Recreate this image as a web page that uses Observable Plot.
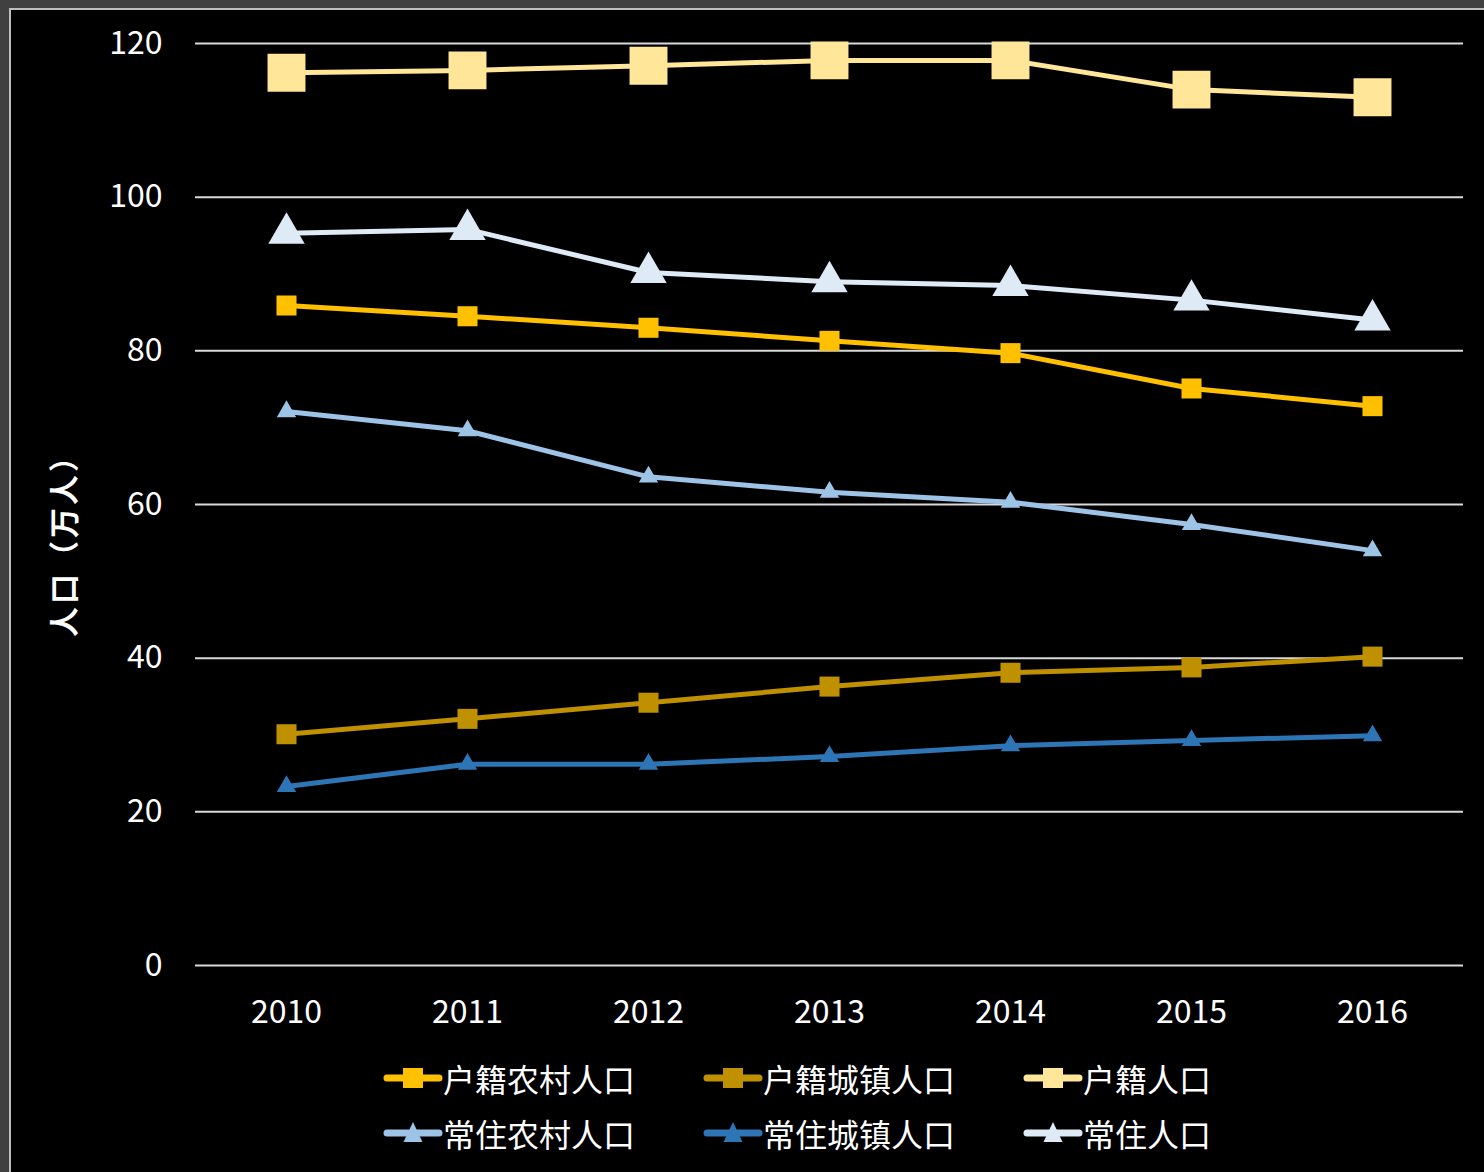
<!DOCTYPE html>
<html><head><meta charset="utf-8">
<script src="https://cdn.jsdelivr.net/npm/d3@7"></script>
<script src="https://cdn.jsdelivr.net/npm/@observablehq/plot@0.6"></script>
<style>
html,body{margin:0;padding:0;background:#404040;overflow:hidden;width:1484px;height:1172px;}
#frame{position:absolute;left:9px;top:8px;width:1490px;height:1180px;border:2px solid #bfbfbf;background:#000;font-family:"Noto Sans CJK SC",sans-serif;}
#chart{position:absolute;left:0;top:0;}
#legend{position:absolute;left:0;top:0;}
#ytitle{position:absolute;left:51px;top:528px;transform:translate(-50%,-50%) rotate(-90deg);color:#fff;font-size:30px;font-weight:bold;white-space:nowrap;line-height:36px;letter-spacing:3px;}
.item{position:absolute;display:flex;align-items:center;height:50px;color:#fff;font-size:32px;line-height:50px;white-space:nowrap;}
.item svg{display:block;}
</style></head>
<body><div id="frame"><div id="chart"></div><div id="ytitle"></div><div id="legend"></div></div>
<script>
const years = [2010, 2011, 2012, 2013, 2014, 2015, 2016];
const yTicks = [0, 20, 40, 60, 80, 100, 120];
const yTitle = "人口（万人）";
const seriesNames = ["户籍农村人口", "户籍城镇人口", "户籍人口", "常住农村人口", "常住城镇人口", "常住人口"];
const seriesColors = ["#FFC000", "#BF9000", "#FFE699", "#9DC3E6", "#2E75B6", "#DEEBF7"];
const seriesSymbols = ["square", "square", "square", "triangle", "triangle", "triangle"];
const hujiRural = [85.9, 84.5, 83.0, 81.3, 79.7, 75.1, 72.8];
const hujiUrban = [30.1, 32.1, 34.2, 36.3, 38.1, 38.8, 40.2];
const hujiTotal = [116.2, 116.5, 117.1, 117.8, 117.8, 114.0, 113.0];
const changzhuRural = [72.1, 69.6, 63.6, 61.6, 60.3, 57.4, 54.0];
const changzhuUrban = [23.3, 26.2, 26.2, 27.2, 28.6, 29.3, 29.9];
const changzhuTotal = [95.3, 95.8, 90.2, 89.0, 88.5, 86.6, 84.0];
const seriesValues = [hujiRural, hujiUrban, hujiTotal, changzhuRural, changzhuUrban, changzhuTotal];
const markerR = [11.3, 11.3, 21.4, 7.2, 7.2, 13.5];

const marks = [
  Plot.gridY(yTicks, {stroke: "#d9d9d9", strokeOpacity: 1, strokeWidth: 2}),
  Plot.axisY(yTicks, {tickSize: 0, tickPadding: 33, fontSize: 32, label: null}),
  Plot.axisX(years, {tickSize: 0, tickPadding: 35, fontSize: 32, label: null, tickFormat: d => String(d)})
];
seriesNames.forEach((name, i) => {
  const rows = years.map((y, j) => ({name, year: y, value: seriesValues[i][j]}));
  marks.push(Plot.line(rows, {x: "year", y: "value", stroke: seriesColors[i], strokeWidth: 5}));
  marks.push(Plot.dot(rows, {x: "year", y: "value", fill: seriesColors[i], stroke: "none", symbol: seriesSymbols[i], r: markerR[i]}));
});

const chart = Plot.plot({
  width: 1473, height: 1040,
  marginLeft: 184, marginRight: 21, marginTop: 33, marginBottom: 85,
  x: {type: "point", domain: years, padding: 0.5},
  y: {domain: [0, 120]},
  style: {background: "transparent", color: "#fff", fontFamily: "'Noto Sans CJK SC', sans-serif", fontSize: "32px", overflow: "visible"},
  marks
});
document.getElementById("chart").appendChild(chart);
document.getElementById("ytitle").textContent = yTitle;

const legend = document.getElementById("legend");
seriesNames.forEach((name, i) => {
  const row = Math.floor(i / 3), col = i % 3;
  const item = document.createElement("div");
  item.className = "item";
  item.style.left = (372 + col * 320) + "px";
  item.style.top = (1068 + row * 55 - 25) + "px";
  const c = seriesColors[i];
  let marker;
  if (seriesSymbols[i] === "square") {
    marker = `<rect x="20" y="5" width="20" height="20" fill="${c}"/>`;
  } else {
    marker = `<path d="M30,4 L39.5,24 L20.5,24 Z" fill="${c}"/>`;
  }
  item.innerHTML = `<svg width="60" height="30"><line x1="4" y1="15" x2="56" y2="15" stroke="${c}" stroke-width="7" stroke-linecap="round"/>${marker}</svg><span>${name}</span>`;
  legend.appendChild(item);
});
</script>
</body></html>
